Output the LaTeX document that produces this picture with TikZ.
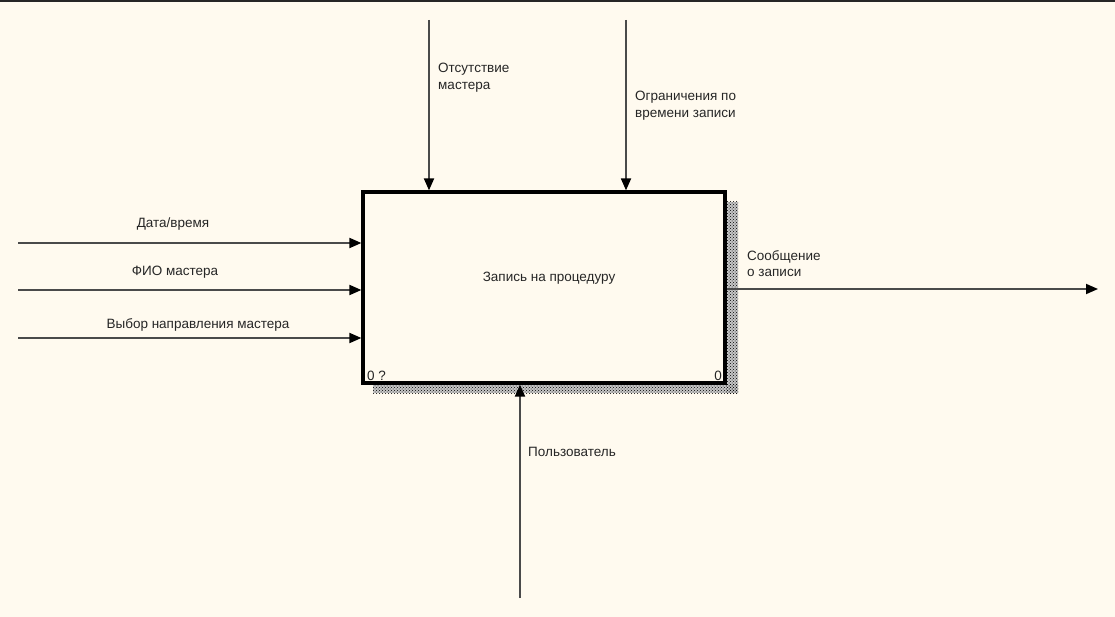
\documentclass[tikz,border=0pt]{standalone}
\usepackage{fontspec}
\setmainfont{Liberation Sans}
\usetikzlibrary{arrows.meta, positioning, patterns}
\definecolor{idefbg}{HTML}{FFFAEF}
\definecolor{idefline}{HTML}{4A4A4A}
\tikzset{
  func/.style={draw=black,line width=3.2pt,minimum width=362pt,minimum height=191pt,inner sep=0pt},
  flow/.style={draw=idefline,line width=1.8pt,-{Triangle[length=12pt,width=10pt,color=black]}},
  lbl/.style={font=\fontsize{13.5}{16.5}\selectfont,text=black!85,inner sep=0pt,align=left},
  shade/.style={pattern=crosshatch dots,pattern color=black,draw=none},
}
\begin{document}
\begin{tikzpicture}[x=1pt,y=-1pt]
  \useasboundingbox (0,0) rectangle (1115,617);
  \fill[idefbg] (0,0) rectangle (1115,617);
  \draw[black!85,line width=2pt] (0,1) -- (1115,1);
  % shadow of the function box
  \fill[gray!45] (726,202) rectangle (738,393);
  \fill[gray!45] (373,384) rectangle (738,393);
  \fill[shade] (726,202) rectangle (738,393);
  \fill[shade] (373,384) rectangle (738,393);
  \node[func,fill=idefbg] (proc) at (544,287.5) {};
  \node[lbl] (name) at (549,278) {Запись на процедуру};
  \node[lbl,anchor=south west] (num) at (367,381) {0 ?};
  \node[lbl,anchor=south east] (cnum) at (722,381) {0};
  % inputs
  \coordinate (in1) at (18,243);
  \coordinate (in2) at (18,290);
  \coordinate (in3) at (18,338);
  \draw[flow] (in1) -- (in1 -| proc.west);
  \draw[flow] (in2) -- (in2 -| proc.west);
  \draw[flow] (in3) -- (in3 -| proc.west);
  \node[lbl] (date) at (173,224) {Дата/время};
  \node[lbl] (fio) at (175,272) {ФИО мастера};
  \node[lbl] (choice) at (198,325) {Выбор направления мастера};
  % controls
  \coordinate (c1) at (429,20);
  \coordinate (c2) at (626,20);
  \draw[flow] (c1) -- (c1 |- proc.north);
  \draw[flow] (c2) -- (c2 |- proc.north);
  \node[lbl,anchor=north west] (absent) at (438,63) {Отсутствие\\мастера};
  \node[lbl,anchor=north west] (limits) at (635,91) {Ограничения по\\времени записи};
  % output
  \coordinate (out) at (1098,289);
  \draw[flow] (proc.east |- out) -- (out);
  \node[lbl,anchor=north west] (msg) at (747,250) {Сообщение\\о записи};
  % mechanism
  \coordinate (m1) at (520,598);
  \draw[flow] (m1) -- (m1 |- proc.south);
  \node[lbl,anchor=west] (user) at (528,452) {Пользователь};
\end{tikzpicture}
\end{document}
